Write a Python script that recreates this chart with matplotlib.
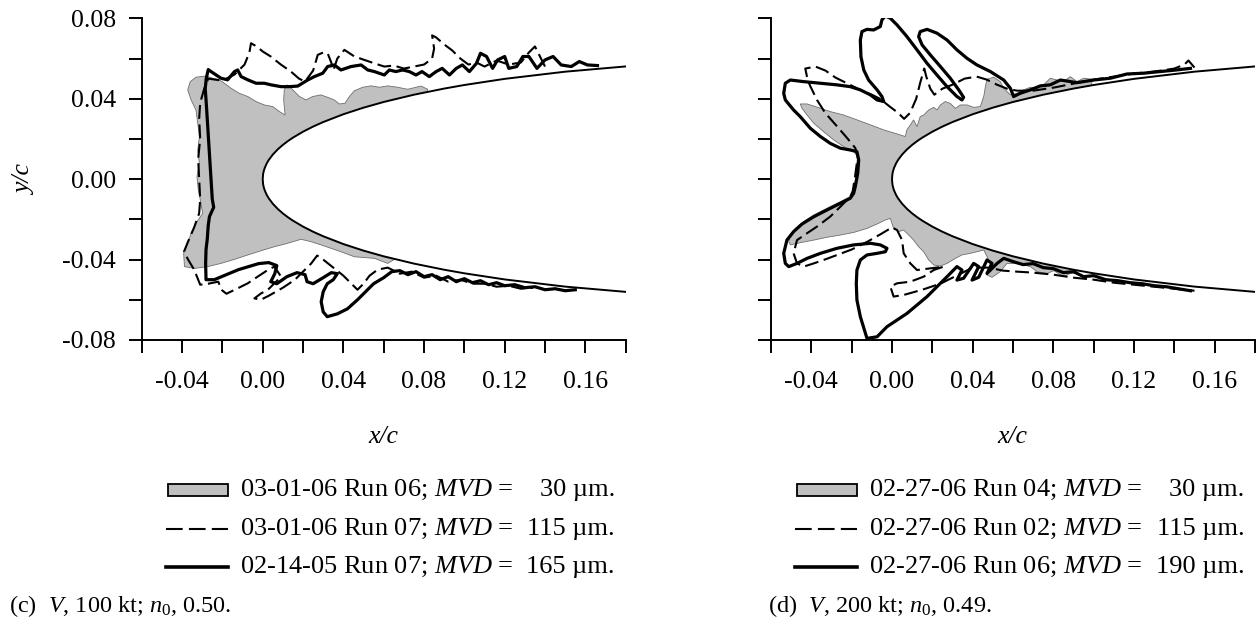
import matplotlib
matplotlib.use("Agg")
import numpy as np
import matplotlib.pyplot as plt
from matplotlib.patches import Rectangle
from matplotlib.lines import Line2D

plt.rcParams['font.family'] = 'Liberation Serif'
plt.rcParams['mathtext.fontset'] = 'custom'
plt.rcParams['mathtext.rm'] = 'Liberation Serif'
plt.rcParams['mathtext.it'] = 'Liberation Serif:italic'
plt.rcParams['lines.scale_dashes'] = False

# all coordinates below are in thousandths of chord (x/c*1000, y/c*1000)

# airfoil leading edge, upper surface (lower one is the mirror)
foil_x = [0, 0.2, 0.5, 1, 2, 3, 5, 7.5, 10, 12.5, 15, 20, 25, 30, 40, 50, 60,
          75, 90, 100, 120, 150, 180, 200]
foil_y = [0, 2.50, 3.95, 5.56, 7.82, 9.53, 12.21, 14.85, 17.04, 18.94, 20.64,
          23.60, 26.15, 28.40, 32.28, 35.55, 38.38, 42.00, 45.05, 46.83, 49.88,
          53.45, 56.06, 57.38]

# (c) V = 100 kt
c_mvd30 = [(81.8, 44.7), (78.5, 46.3), (71.9, 44.7), (66.9, 45.7), (62.0, 46.4),
           (57.9, 45.7), (53.7, 46.4), (49.6, 45.7), (45.5, 44.0), (43.0, 41.1),
           (40.8, 37.7), (38.0, 37.4), (35.5, 39.4), (32.2, 40.7), (28.9, 41.9),
           (24.8, 41.1), (21.5, 39.4), (18.2, 41.1), (15.7, 43.6), (13.7, 45.7),
           (12.1, 46.9), (10.7, 44.4), (10.4, 39.4), (11.1, 31.9), (8.3, 33.6),
           (5.0, 36.1), (0.8, 36.9), (-3.3, 38.6), (-7.4, 41.1), (-11.6, 42.7),
           (-15.7, 45.2), (-19.0, 47.7), (-21.5, 49.4), (-24.8, 50.2), (-28.1, 51.3),
           (-33.1, 50.7), (-35.9, 48.5), (-37.2, 44.4), (-35.5, 39.4), (-33.1, 34.4),
           (-32.2, 27.8), (-31.4, 21.1), (-32.2, 14.5), (-31.4, 7.9), (-32.6, 1.3),
           (-31.9, -5.4), (-30.6, -12.0), (-29.8, -17.0), (-33.1, -22.0), (-35.5, -26.9),
           (-37.2, -31.9), (-39.2, -36.9), (-38.8, -43.5), (-33.9, -44.4), (-27.3, -43.5),
           (-20.7, -41.9), (-14.0, -39.9), (-7.4, -37.7), (-0.8, -35.6), (5.8, -33.6),
           (12.4, -31.9), (19.0, -29.9), (24.0, -31.1), (28.9, -32.7), (33.9, -34.4),
           (38.8, -36.1), (45.5, -38.6), (55.4, -39.4), (62.0, -41.9), (65.3, -39.9)]

c_mvd115 = [(140, 56), (137, 62), (135, 66), (132, 63), (128, 58), (122, 57), (116, 59),
            (110, 56), (106, 58), (102, 57), (98, 60), (94, 64), (90, 67), (86, 70.5),
            (84, 71.5), (85, 65), (84, 60), (80, 57), (75, 56), (70, 55), (65, 56.5),
            (60.3, 56), (55.4, 57.6), (50.4, 59.3), (45.5, 61), (40.5, 64.3), (37, 60),
            (35, 54), (34, 58), (32.2, 62.6), (30, 63), (27.3, 61.8), (25, 54), (21, 48.5),
            (18, 50), (14, 53.5), (9, 57), (4, 61), (0, 63.5), (-3, 66), (-5.8, 67.6),
            (-6.6, 63), (-9, 57), (-14, 52), (-20, 49), (-27, 50), (-29, 45), (-31, 38),
            (-31.5, 30), (-31, 20), (-32, 10), (-31.5, 0), (-31, -10), (-31.5, -17),
            (-34, -24), (-37, -31), (-39, -36), (-37, -40), (-34, -45), (-32, -50),
            (-31, -52.5), (-27, -52), (-22, -51), (-20.5, -55), (-18, -57), (-12.4, -54.3),
            (-7.4, -51.8), (-2.5, -48.5), (2.5, -45.2), (5.8, -43.5), (9.1, -48.5),
            (5.8, -51.8), (2.5, -55.1), (-0.8, -56.8), (-4.1, -59.3), (-1, -60), (3, -58),
            (10, -54), (16, -50), (20, -46), (24, -42), (27, -38), (30, -40), (35, -44),
            (40, -48), (44, -52), (47, -55), (50, -52), (53, -48), (57, -45), (62, -44),
            (68, -47), (74, -46), (80, -49), (86, -48), (92, -51), (98, -50), (104, -52),
            (110, -52), (116, -53.5), (122, -53), (128, -54.5), (134, -54)]

c_mvd165 = [(166, 56.5), (161, 56.8), (157, 58.5), (153, 56), (148, 56.8), (144, 61),
            (140, 59.3), (136, 55.1), (132, 61), (129, 61), (126, 56), (122, 55.1),
            (120, 61), (116.5, 59.3), (114, 55.1), (111, 61), (108, 62.6), (106, 57.6),
            (102.5, 53.5), (99, 56.8), (96, 55.1), (92.6, 51.8), (89, 55.1), (86, 53.5),
            (82.6, 51), (79, 53.5), (76, 51.8), (72.7, 53.5), (69.4, 54.3), (66, 53.5),
            (62.8, 54.3), (60.3, 51.8), (55.4, 53.5), (52.1, 54.3), (48.8, 56.8),
            (43.8, 56), (38.8, 54.3), (35.5, 56.8), (32.2, 56), (29.8, 52.7), (25.6, 51),
            (22.3, 49.3), (17.4, 46.3), (13.2, 46), (9.1, 46), (4.1, 46.9), (0.8, 47.7),
            (-3.3, 47.7), (-7.4, 49.4), (-10.7, 51), (-12.4, 54.3), (-14, 53.5),
            (-17.4, 49.4), (-20.7, 50.2), (-25.6, 53.5), (-27, 54.5), (-28, 50),
            (-28.5, 45), (-28, 38), (-27.5, 30), (-27, 22), (-26.5, 14), (-26, 6),
            (-25.5, -2), (-25, -10), (-24.3, -14), (-26.4, -18.6), (-27, -23),
            (-27.5, -30), (-28.1, -35), (-28.3, -42), (-28.1, -50), (-24, -50),
            (-18, -47.5), (-12, -45), (-7, -43.5), (-2, -42), (3, -41.5), (7, -43),
            (6, -47), (4, -51), (7, -52), (12, -48.5), (17, -46.5), (21, -47.5), (22, -51),
            (25, -52), (30, -49), (34, -46.5), (37, -47), (35, -50), (32, -52), (30, -56),
            (29, -61), (30, -66), (32, -68.4), (37, -67), (42, -64.5), (47, -60), (51, -56),
            (55, -52), (60, -49), (64, -46), (68, -45.5), (72, -47.5), (76, -46),
            (80, -48.5), (84, -47.5), (88, -50), (92, -48.5), (96, -51), (100, -49.5),
            (104, -51.5), (108, -50.5), (112, -52.5), (116, -51.5), (120, -53),
            (125, -52.5), (130, -54), (135, -53.5), (140, -55), (145, -54.5),
            (150, -55.5), (155, -55)]

# (d) V = 200 kt
d_mvd30 = [(99.2, 49.7), (95.0, 50.2), (91.7, 48.5), (88.4, 51.0), (85.1, 48.5),
           (81.8, 49.3), (78.5, 50.2), (75.2, 46.9), (71.9, 45.2), (68.6, 45.7),
           (65.3, 44.4), (62.0, 42.7), (58.7, 41.9), (55.4, 45.2), (53.7, 48.5),
           (50.4, 50.7), (47.1, 49.7), (46.3, 46.0), (45.5, 41.1), (43.8, 36.1),
           (40.5, 35.7), (37.2, 36.9), (33.9, 36.9), (31.4, 35.2), (28.9, 37.7),
           (26.4, 38.6), (24.0, 36.9), (22.3, 34.4), (20.7, 35.7), (18.2, 34.4),
           (15.7, 31.9), (14.0, 31.1), (12.4, 26.1), (10.7, 29.5), (9.1, 27.0),
           (7.4, 24.5), (6.6, 21.2), (2.5, 22.5), (-4.1, 24.5), (-10.7, 27.0),
           (-17.4, 29.5), (-24.0, 31.9), (-30.6, 33.6), (-37.2, 35.8), (-42.1, 37.4),
           (-45.5, 37.4), (-44.6, 35.2), (-42.1, 31.9), (-38.8, 27.8), (-33.9, 23.6),
           (-28.9, 19.5), (-24.0, 16.2), (-19.0, 13.7), (-17.0, 11.2), (-17.7, 6.2),
           (-18.2, -0.4), (-19.0, -6.2), (-20.7, -8.7), (-24.0, -10.4), (-28.9, -12.8),
           (-33.9, -15.3), (-38.8, -17.8), (-43.8, -21.1), (-47.9, -24.5), (-50.4, -27.8),
           (-51.2, -31.1), (-50.4, -32.7), (-45.5, -31.6), (-38.8, -30.3), (-32.2, -28.9),
           (-25.6, -27.8), (-19.0, -26.5), (-12.4, -24.5), (-7.4, -22.3), (-3.3, -20.3),
           (-0.8, -19.5), (0.8, -24.5), (3.3, -26.1), (5.8, -25.3), (8.3, -27.8),
           (10.7, -30.3), (13.2, -33.6), (15.7, -36.1), (18.2, -40.2), (20.7, -42.7),
           (24.0, -43.2), (27.3, -41.9), (31.4, -39.4), (34.7, -37.7), (38.8, -36.9),
           (42.1, -36.1), (45.5, -35.2), (48.8, -41.9), (47.1, -47.7), (49.6, -48.8),
           (53.7, -46.0), (57.0, -41.9), (62.0, -41.9), (68.6, -43.5), (71.9, -46.0),
           (76.9, -46.9), (80.2, -45.5), (85.1, -48.5), (88.4, -46.9), (91.7, -46.5)]

d_mvd115 = [(150, 55.5), (147, 59), (145, 57), (140, 55), (130, 53.5), (120, 52.5),
            (110, 51), (100, 49.5), (90, 47.5), (80, 45.5), (70, 44), (62, 44), (57, 45),
            (52, 47), (47, 49.5), (42, 51), (36, 50), (30, 47), (25, 45), (21, 42),
            (19, 45), (17, 51), (16, 55), (14, 48), (12, 40), (9, 33), (6, 30), (3, 33),
            (-1, 36), (-6, 40), (-10, 42), (-15, 44), (-22, 47.5), (-28, 50.5), (-33, 54),
            (-38, 56), (-43, 55), (-41.8, 49.3), (-40.5, 46.2), (-37.2, 39.4),
            (-33.1, 32.9), (-27.3, 26.3), (-22.3, 20.5), (-18.2, 15.5), (-17, 11.2),
            (-18.5, 0), (-19.5, -6), (-20.7, -8.7), (-25.6, -13.7), (-30.6, -18.6),
            (-37.2, -23.6), (-42.1, -26.9), (-47.1, -30.3), (-48.8, -36.9), (-47.1, -41.9),
            (-43.8, -43.5), (-38.8, -41.9), (-33.9, -40.2), (-28, -38), (-20, -35),
            (-12, -31), (-5, -27), (0, -24), (2.5, -25.3), (5, -30.3), (5.8, -36.9),
            (9.1, -41.9), (12.4, -45.2), (18, -44.5), (25.6, -43.5), (20.7, -45.2),
            (15.7, -48.5), (9.1, -51), (2.5, -51.8), (-0.8, -53.5), (0.8, -58.4),
            (5.8, -57.6), (15, -55), (24, -52), (32, -48), (40, -44), (48, -44),
            (55, -45.5), (62, -46), (70, -46.5), (80, -47.5), (90, -49), (100, -50),
            (110, -51.5), (120, -52.5), (130, -53.5), (140, -54.5), (150, -55.5)]

d_mvd190 = [(148, 55.1), (141, 54.3), (133, 53.5), (124.8, 52.7), (116.5, 52.3),
            (108.3, 50.2), (100, 49.3), (91.7, 48), (83.5, 49.3), (78.5, 46.9),
            (73.6, 46.4), (68.6, 44.4), (63.6, 42.7), (60.3, 41.1), (58.7, 45.2),
            (55.4, 49.3), (48.8, 53.5), (42.1, 56.8), (37.2, 60.1), (32.2, 64.3),
            (27.3, 69.2), (22.3, 72.6), (17.4, 74.5), (14, 73.4), (13.2, 70.9),
            (14.9, 66.8), (19, 61.8), (24, 56), (28.9, 50.2), (33.1, 44.4), (35.5, 40.7),
            (34.7, 39.4), (32.2, 41.1), (27.3, 46), (22.3, 51.8), (17.4, 57.6),
            (12.4, 64.3), (7.4, 70.9), (2.5, 76.7), (-0.8, 80), (-3.3, 81.2), (-5, 79.2),
            (-5.8, 75.9), (-9.1, 74.2), (-12.4, 74.5), (-14.9, 73.4), (-15.7, 69.2),
            (-15.4, 60.9), (-14, 54.3), (-11.6, 49.3), (-7.4, 44.4), (-5, 41.1),
            (-4.1, 38.6), (-7.4, 39.4), (-10.7, 41.9), (-15.7, 44.4), (-20.7, 46),
            (-27.3, 46.9), (-35.5, 47.7), (-43.8, 48.5), (-50.4, 49.3), (-52.9, 47.7),
            (-53.7, 42.7), (-52.9, 39.4), (-48.8, 34.4), (-45.5, 31.1), (-40.5, 25.3),
            (-35.5, 21.2), (-30.6, 17.8), (-25.6, 15.4), (-20.7, 14.5), (-17.4, 13.7),
            (-16.5, 9.5), (-17, 2.9), (-18.2, -3.7), (-19, -7), (-20.7, -9.5),
            (-25.6, -12), (-32.2, -15.3), (-38.8, -18.7), (-44.6, -22.3), (-48.8, -26.1),
            (-52.1, -30.3), (-53.7, -36.9), (-52.9, -41.9), (-51.2, -43.5), (-47.1, -41.9),
            (-42.1, -39.4), (-35.5, -36.9), (-27.3, -34.4), (-19, -32.7), (-10.7, -31.9),
            (-5.8, -32.7), (-2.5, -34.4), (-3.3, -36.1), (-7.4, -36.9), (-12.4, -37.7),
            (-15.7, -40.2), (-17.4, -45.2), (-17.7, -51.8), (-17.4, -60.1), (-15.7, -68.4),
            (-13.2, -76.7), (-12.4, -79.2), (-7.4, -78.4), (-2.5, -73.4), (2.5, -70.1),
            (7.4, -66.8), (12.4, -62.6), (17.4, -58.4), (22.3, -53.5), (27.3, -48.5),
            (32.2, -43.5), (34.7, -45.2), (32.2, -50.2), (35.5, -49.3), (40.5, -41.9),
            (43, -43.5), (39.7, -50.2), (43, -48.8), (47.1, -40.2), (49.6, -41.9),
            (47.1, -46.9), (52.1, -41.9), (55.4, -39.4), (60, -41), (65, -42.5), (70, -42),
            (75, -44), (80, -44.5), (85, -46.5), (90, -46), (95, -48.5), (100, -48),
            (106, -50), (112, -50.5), (118, -51.5), (124, -52), (130, -53), (136, -53.5),
            (142, -54.5), (148, -55.5)]

x_ticks = [-0.06, -0.04, -0.02, 0.00, 0.02, 0.04, 0.06, 0.08, 0.10, 0.12, 0.14, 0.16, 0.18]
x_labels = ['', '-0.04', '', '0.00', '', '0.04', '', '0.08', '', '0.12', '', '0.16', '']
y_ticks = [-0.08, -0.06, -0.04, -0.02, 0.00, 0.02, 0.04, 0.06, 0.08]
y_labels = ['-0.08', '', '-0.04', '', '0.00', '', '0.04', '', '0.08']

panels = [
    dict(gray=c_mvd30, dash=c_mvd115, solid=c_mvd165, left=141.7,
         names=['03-01-06 Run 06', '03-01-06 Run 07', '02-14-05 Run 07'],
         mvd=['30', '115', '165'],
         caption=r'(c)  $\mathit{V}$, 100 kt; $\mathit{n}_{\mathit{0}}$, 0.50.', cap_x=9),
    dict(gray=d_mvd30, dash=d_mvd115, solid=d_mvd190, left=771.0,
         names=['02-27-06 Run 04', '02-27-06 Run 02', '02-27-06 Run 06'],
         mvd=['30', '115', '190'],
         caption=r'(d)  $\mathit{V}$, 200 kt; $\mathit{n}_{\mathit{0}}$, 0.49.', cap_x=768),
]

W, H = 1257, 624
fig = plt.figure(figsize=(W / 100, H / 100), dpi=100)


def fx(px):
    return px / W


def fy(py):
    return 1 - py / H


def xy(pts):
    a = np.array(pts, dtype=float) / 1000.0
    return a[:, 0], a[:, 1]


fx_arr = np.array(foil_x) / 1000.0
fy_arr = np.array(foil_y) / 1000.0
foil_outline_x = np.concatenate([fx_arr[::-1], fx_arr[1:]])
foil_outline_y = np.concatenate([fy_arr[::-1], -fy_arr[1:]])

for i, p in enumerate(panels):
    left = p['left']
    ax = fig.add_axes([fx(left), fy(340), 484 / W, (340 - 18.3) / H])
    ax.set_xlim(-0.06, 0.18)
    ax.set_ylim(-0.08, 0.08)
    for s in ['top', 'right']:
        ax.spines[s].set_visible(False)
    for s in ['left', 'bottom']:
        ax.spines[s].set_linewidth(1.4)
    ax.set_xticks(x_ticks)
    ax.set_xticklabels(x_labels)
    ax.set_yticks(y_ticks)
    ax.set_yticklabels(y_labels if i == 0 else [''] * len(y_ticks))
    ax.tick_params(direction='out', length=9.4, width=1.4, labelsize=18.5)
    ax.tick_params(axis='x', pad=13)
    ax.tick_params(axis='y', pad=9)

    gx, gy = xy(p['gray'])
    ax.fill(gx, gy, facecolor='#c0c0c0', edgecolor='#6e6e6e', lw=0.6, zorder=1)
    dx, dy = xy(p['dash'])
    ax.plot(dx, dy, color='black', lw=1.5, dashes=(10, 4), zorder=3)
    sx, sy = xy(p['solid'])
    ax.plot(sx, sy, color='black', lw=2.3, zorder=4, solid_joinstyle='round')
    ax.fill(foil_outline_x, foil_outline_y, facecolor='white', edgecolor='black',
            lw=1.4, zorder=5)

    off = left - 141.7
    fig.text(fx(383 + off), fy(437), 'x/c', fontsize=18.5, fontstyle='italic',
             ha='center', va='center')

    # legend drawn by hand: swatch, dashed, solid
    rows = [490.0, 528.5, 567.0]
    fig.patches.append(Rectangle((fx(168 + off), fy(rows[0] + 6)), 60 / W, 12 / H,
                                 transform=fig.transFigure, facecolor='#c0c0c0',
                                 edgecolor='black', lw=1.3))
    fig.lines.append(Line2D([fx(166 + off), fx(228 + off)], [fy(rows[1])] * 2,
                            transform=fig.transFigure, color='black', lw=1.5,
                            dashes=(12, 4.5)))
    fig.lines.append(Line2D([fx(166 + off), fx(228 + off)], [fy(rows[2])] * 2,
                            transform=fig.transFigure, color='black', lw=2.6))
    for r, name, m in zip(rows, p['names'], p['mvd']):
        fig.text(fx(240 + off), fy(r), name + r'; $\mathit{MVD}$ =', fontsize=19,
                 ha='left', va='center')
        fig.text(fx(615 + off), fy(r), m + ' µm.', fontsize=19, ha='right', va='center')
    fig.text(fx(p['cap_x']), fy(606), p['caption'], fontsize=17.5, ha='left', va='center')

fig.text(fx(25), fy(180), 'y/c', fontsize=18.5, fontstyle='italic', rotation=90,
         ha='center', va='center')

fig.savefig('out.png', dpi=100)
